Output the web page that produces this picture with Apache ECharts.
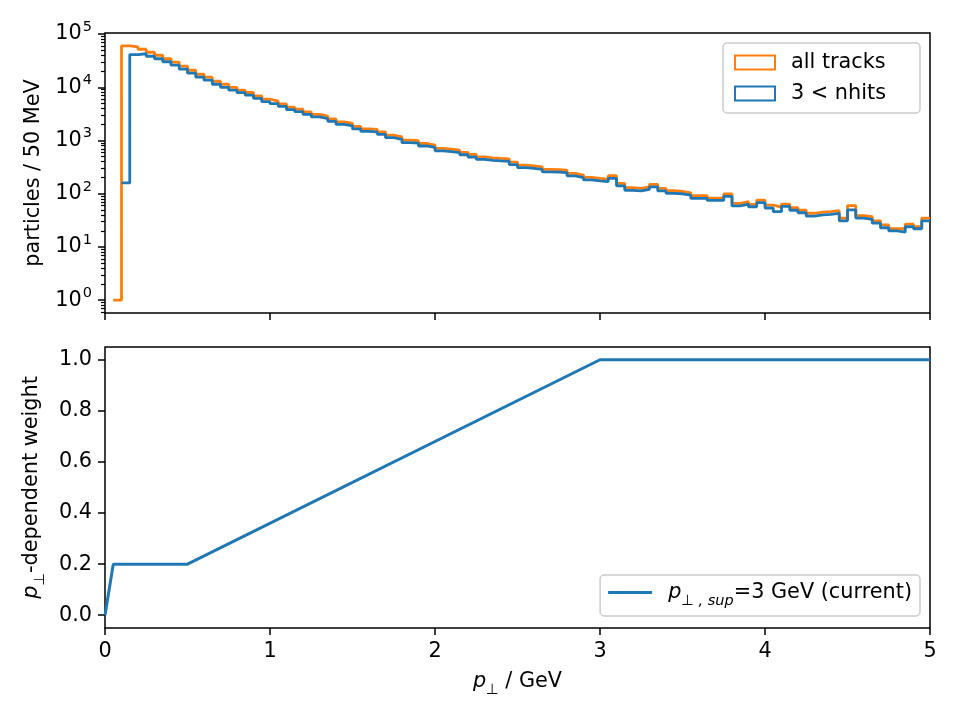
<!DOCTYPE html>
<html>
<head>
<meta charset="utf-8">
<title>pT spectrum and pT-dependent weight</title>
<script src="https://cdn.jsdelivr.net/npm/echarts@6/dist/echarts.min.js"></script>
<style>
  html, body { margin: 0; padding: 0; background: #fff; }
  #chart { width: 960px; height: 720px; }
</style>
</head>
<body>
<div id="chart"></div>
<script>
// histogram: 100 bins of 50 MeV from 0 to 5 GeV
const binWidth = 0.05
const allTracks = [
  0, 1, 59800, 57300, 51900, 45500, 40000, 34400, 29600, 24900,
  20900, 17600, 15500, 13000, 11400, 10000, 8830, 7990, 6900, 5980,
  5490, 4880, 4240, 3880, 3450, 3090, 2870, 2550, 2240, 2090,
  1840, 1660, 1620, 1460, 1260, 1170, 1020, 990, 880, 820,
  710, 690, 660, 600, 550, 494, 473, 461, 454, 393,
  345, 335, 321, 287, 284, 279, 242, 224, 203, 195,
  189, 218, 157, 130, 126, 135, 150, 126, 114, 111,
  104, 92, 92, 83, 83, 99, 66, 71, 63, 76,
  61, 56, 64, 55, 49, 43, 45, 46, 48, 35,
  60, 39, 37, 31, 26, 22, 22, 27, 24, 35
]
const nhitsAbove3 = [
  0, 0, 160, 41200, 42700, 38300, 34400, 30200, 26000, 21900,
  18400, 15500, 13600, 11400, 10000, 8830, 7930, 7110, 6190, 5370,
  4920, 4380, 3800, 3480, 3100, 2770, 2580, 2290, 2010, 1880,
  1650, 1490, 1450, 1310, 1130, 1050, 910, 890, 790, 740,
  640, 620, 590, 540, 490, 444, 425, 414, 407, 353,
  310, 301, 288, 258, 255, 250, 217, 201, 182, 175,
  169, 195, 141, 116, 113, 121, 135, 113, 102, 100,
  94, 82, 82, 75, 75, 89, 59, 64, 57, 68,
  54, 46, 58, 49, 44, 38, 40, 41, 43, 31,
  50, 35, 33, 28, 23, 20, 19, 24, 22, 31
]

// weight function (piecewise linear)
const weightPt = [0, 0.05, 0.5, 3, 5]
const weightValue = [0, 0.2, 0.2, 1, 1]

// ticks
const decadeTicks = [0, 1, 2, 3, 4, 5]      // exponents, 10^n
const weightTicks = [0, 0.2, 0.4, 0.6, 0.8, 1.0]

const ORANGE = '#ff7f0e'
const BLUE = '#1f77b4'
const FONT = "'DejaVu Sans', sans-serif"
const FS = 20.8
const FS_SMALL = 14.5

// log axis limits (exponents), like matplotlib's 5% margin
const logMin = -0.24
const logMax = 5.02

// minor ticks at 2..9 x 10^n
const minorTicks = []
for (let n = -1; n <= 5; n++) {
  for (let k = 2; k <= 9; k++) {
    const e = Math.log10(k) + n
    if (e > logMin && e < logMax) minorTicks.push(e)
  }
}

// step outline: one point per left bin edge, plus the last right edge
function stepData(counts) {
  const pts = counts.map((c, i) => [i * binWidth, c > 0 ? Math.log10(c) : null])
  const last = counts[counts.length - 1]
  pts.push([counts.length * binWidth, Math.log10(last)])
  return pts
}

const subRich = {
  it: { fontStyle: 'italic', fontSize: FS, fontFamily: FONT, color: '#000' },
  sub: { fontSize: FS_SMALL, fontFamily: FONT, color: '#000', verticalAlign: 'bottom', padding: [0, 0, -6, 0] },
  subit: { fontSize: FS_SMALL, fontStyle: 'italic', fontFamily: FONT, color: '#000', verticalAlign: 'bottom', padding: [0, 0, -6, 0] }
}

const tickStyle = { color: '#000', width: 1.5 }

const chart = echarts.init(document.getElementById('chart'))

chart.setOption({
  animation: false,
  backgroundColor: '#fff',
  grid: [
    { left: 105, right: 30, top: 33, height: 280, show: true, borderColor: '#000', borderWidth: 1.5 },
    { left: 105, right: 30, top: 347, height: 281, show: true, borderColor: '#000', borderWidth: 1.5 }
  ],
  xAxis: [
    {
      gridIndex: 0,
      type: 'value',
      position: 'bottom',
      min: 0,
      max: 5,
      interval: 1,
      axisLine: { show: false, onZero: false },
      splitLine: { show: false },
      axisTick: { length: 7, lineStyle: tickStyle },
      axisLabel: { show: false }
    },
    {
      gridIndex: 1,
      type: 'value',
      position: 'bottom',
      min: 0,
      max: 5,
      interval: 1,
      axisLine: { show: false, onZero: false },
      splitLine: { show: false },
      axisTick: { length: 7, lineStyle: tickStyle },
      axisLabel: { margin: 13, color: '#000', fontSize: FS, fontFamily: FONT },
      name: '{it|p}{sub|⊥} / GeV',
      nameLocation: 'middle',
      nameGap: 43,
      nameTextStyle: { color: '#000', fontSize: FS, fontFamily: FONT, rich: subRich }
    }
  ],
  yAxis: [
    {
      gridIndex: 0,
      type: 'value',
      position: 'left',
      min: logMin,
      max: logMax,
      axisLine: { show: false, onZero: false },
      splitLine: { show: false },
      axisTick: { customValues: decadeTicks, length: 7, lineStyle: tickStyle },
      axisLabel: {
        customValues: decadeTicks,
        margin: 13,
        color: '#000',
        fontSize: FS,
        fontFamily: FONT,
        formatter: v => '10{sup|' + Math.round(v) + '}',
        rich: { sup: { fontSize: FS_SMALL, fontFamily: FONT, color: '#000', verticalAlign: 'top', padding: [-4, 0, 0, 1] } }
      },
      name: 'particles / 50 MeV',
      nameLocation: 'middle',
      nameRotate: 90,
      nameGap: 57,
      nameTextStyle: { color: '#000', fontSize: FS, fontFamily: FONT }
    },
    {
      gridIndex: 0,
      type: 'value',
      position: 'left',
      offset: 0,
      min: logMin,
      max: logMax,
      axisLine: { show: false, onZero: false },
      splitLine: { show: false },
      axisTick: { customValues: minorTicks, length: 4, lineStyle: { color: '#000', width: 1.2 } },
      axisLabel: { show: false }
    },
    {
      gridIndex: 1,
      type: 'value',
      position: 'left',
      min: -0.05,
      max: 1.05,
      axisLine: { show: false, onZero: false },
      splitLine: { show: false },
      axisTick: { customValues: weightTicks, length: 7, lineStyle: tickStyle },
      axisLabel: {
        customValues: weightTicks,
        margin: 13,
        color: '#000',
        fontSize: FS,
        fontFamily: FONT,
        formatter: v => v.toFixed(1)
      },
      name: '{it|p}{sub|⊥}-dependent weight',
      nameLocation: 'middle',
      nameRotate: 90,
      nameGap: 57,
      nameTextStyle: { color: '#000', fontSize: FS, fontFamily: FONT, rich: subRich }
    }
  ],
  legend: [
    {
      orient: 'vertical',
      right: 40,
      top: 43,
      padding: [9, 34, 9, 11],
      itemGap: 10,
      itemWidth: 40,
      itemHeight: 14,
      backgroundColor: 'rgba(255,255,255,0.8)',
      borderColor: '#cccccc',
      borderWidth: 1.5,
      borderRadius: 4,
      textStyle: { color: '#000', fontSize: FS, fontFamily: FONT, lineHeight: 20, padding: [0, 0, 0, 11] },
      data: [
        { name: 'all tracks', icon: 'rect', itemStyle: { color: 'rgba(0,0,0,0)', borderColor: ORANGE, borderWidth: 2 } },
        { name: '3 < nhits', icon: 'rect', itemStyle: { color: 'rgba(0,0,0,0)', borderColor: BLUE, borderWidth: 2 } }
      ]
    },
    {
      orient: 'vertical',
      right: 40,
      bottom: 104,
      padding: [7, 8, 7, 8],
      itemWidth: 44,
      itemHeight: 3,
      backgroundColor: 'rgba(255,255,255,0.8)',
      borderColor: '#cccccc',
      borderWidth: 1.5,
      borderRadius: 4,
      formatter: () => '{it|p}{subit|⊥ , sup}=3 GeV (current)',
      textStyle: { color: '#000', fontSize: FS, fontFamily: FONT, padding: [0, 0, 0, 11], rich: subRich },
      data: [{ name: 'weight', icon: 'rect', itemStyle: { color: BLUE } }]
    }
  ],
  series: [
    {
      name: 'all tracks',
      type: 'line',
      xAxisIndex: 0,
      yAxisIndex: 0,
      step: 'end',
      symbol: 'none',
      color: ORANGE,
      lineStyle: { color: ORANGE, width: 2.8 },
      data: stepData(allTracks)
    },
    {
      name: '3 < nhits',
      type: 'line',
      xAxisIndex: 0,
      yAxisIndex: 0,
      step: 'end',
      symbol: 'none',
      color: BLUE,
      lineStyle: { color: BLUE, width: 2.8 },
      data: stepData(nhitsAbove3)
    },
    {
      name: 'weight',
      type: 'line',
      xAxisIndex: 1,
      yAxisIndex: 2,
      symbol: 'none',
      color: BLUE,
      lineStyle: { color: BLUE, width: 3 },
      data: weightPt.map((p, i) => [p, weightValue[i]])
    }
  ]
})
</script>
</body>
</html>
